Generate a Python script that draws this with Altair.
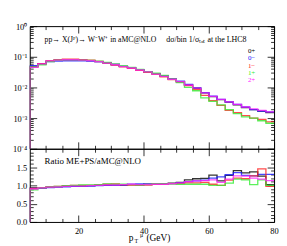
import altair as alt
import pandas as pd

# bin edges of the pT histogram (GeV)
x_lo = 5.0
x_hi = 80.0
bin_w = 2.5
edges = [x_lo + bin_w * i for i in range(31)]

series = ["0+", "0−", "1−", "1+", "2+"]
colors = ["#000000", "#1a1aff", "#ff2020", "#33ee33", "#ff20ff"]

# normalised distributions (aMC@NLO), one value per bin
dist = {
    "0+": [0.049, 0.059, 0.072, 0.078, 0.080, 0.080, 0.078, 0.075, 0.070, 0.063,
           0.056, 0.049, 0.044, 0.038, 0.032, 0.028, 0.0235, 0.019, 0.0155, 0.012,
           0.0094, 0.0066, 0.0050, 0.0040, 0.0033, 0.0027, 0.0022, 0.0019, 0.0017, 0.0015],
    "0−": [0.051, 0.060, 0.069, 0.072, 0.073, 0.073, 0.073, 0.072, 0.069, 0.063,
           0.056, 0.049, 0.044, 0.038, 0.033, 0.028, 0.024, 0.019, 0.016, 0.0125,
           0.0096, 0.0068, 0.0052, 0.0041, 0.0034, 0.0028, 0.0023, 0.0019, 0.0017, 0.0016],
    "1−": [0.046, 0.060, 0.074, 0.081, 0.083, 0.083, 0.081, 0.077, 0.071, 0.062,
           0.054, 0.047, 0.042, 0.036, 0.031, 0.027, 0.022, 0.018, 0.015, 0.0115,
           0.0085, 0.0055, 0.0037, 0.0026, 0.0018, 0.0015, 0.0012, 0.0010, 0.0009, 0.00075],
    "1+": [0.047, 0.055, 0.070, 0.077, 0.079, 0.079, 0.078, 0.076, 0.072, 0.065,
           0.058, 0.050, 0.045, 0.039, 0.033, 0.029, 0.0245, 0.019, 0.0145, 0.0100,
           0.0078, 0.0046, 0.0035, 0.0027, 0.0019, 0.0014, 0.0011, 0.0010, 0.00082, 0.00068],
    "2+": [0.045, 0.059, 0.073, 0.078, 0.080, 0.080, 0.078, 0.075, 0.069, 0.062,
           0.055, 0.048, 0.043, 0.037, 0.032, 0.027, 0.023, 0.0185, 0.0155, 0.012,
           0.0095, 0.0067, 0.0051, 0.0041, 0.0034, 0.0028, 0.0023, 0.0020, 0.0018, 0.0016],
}

# ratio ME+PS / aMC@NLO, one value per bin
ratio = {
    "0+": [0.93, 0.93, 0.95, 0.96, 0.97, 0.98, 0.98, 0.99, 1.00, 1.00,
           1.01, 1.01, 1.02, 1.02, 1.03, 1.04, 1.05, 1.06, 1.08, 1.15,
           1.18, 1.19, 1.28, 1.12, 1.27, 1.40, 1.34, 1.37, 1.25, 1.02],
    "0−": [0.92, 0.92, 0.94, 0.96, 0.96, 0.97, 0.98, 0.98, 0.99, 1.00,
           1.00, 1.01, 1.03, 1.04, 1.03, 1.04, 1.04, 1.05, 1.07, 1.10,
           1.12, 1.14, 1.20, 1.23, 1.29, 1.35, 1.27, 1.26, 1.30, 1.30],
    "1−": [0.92, 0.94, 0.96, 0.97, 0.99, 1.00, 1.00, 1.00, 1.02, 1.03,
           1.04, 1.02, 1.01, 1.00, 1.01, 1.03, 1.03, 1.05, 1.05, 1.07,
           1.07, 1.08, 1.03, 1.00, 1.14, 1.20, 1.18, 1.26, 1.45, 0.97],
    "1+": [0.88, 0.93, 0.96, 0.97, 0.99, 1.00, 1.01, 1.01, 1.02, 1.04,
           1.03, 1.03, 1.02, 1.01, 1.02, 1.05, 1.05, 1.04, 1.03, 1.03,
           1.03, 1.03, 1.00, 1.00, 1.06, 1.17, 1.15, 1.02, 1.15, 1.00],
    "2+": [0.90, 0.93, 0.95, 0.96, 0.97, 0.98, 0.98, 0.99, 1.00, 1.01,
           1.01, 1.02, 1.03, 1.02, 1.02, 1.03, 1.03, 1.05, 1.07, 1.10,
           1.12, 1.13, 1.15, 1.08, 1.17, 1.26, 1.25, 1.20, 1.17, 1.13],
}

x_major = [20, 40, 60, 80]
x_minor = [10, 15, 25, 30, 35, 45, 50, 55, 65, 70, 75]
log_major = [1.0, 0.1, 0.01, 0.001, 0.0001]
log_minor = [k * 10.0 ** e for e in range(-4, 0) for k in range(2, 10)]
r_major = [0.0, 0.5, 1.0, 1.5, 2.0]
r_minor = [round(0.1 * i, 1) for i in range(21) if i % 5 != 0]

W = 247
H_TOP = 124
H_BOT = 74
FONT = "Liberation Serif"
FS = 8.5
MAJ = 7
MIN = 3.5


def step_frame(values, floor):
    xs = [edges[0]] + edges
    ys = [floor] + list(values) + [values[-1]]
    return pd.DataFrame({"x": xs, "y": ys})


def panel(data_map, yscale, floor, H, x_labels, y_major, y_minor, y_label_expr, y_fmt):
    xs = alt.Scale(domain=[x_lo, x_hi], nice=False, zero=False)
    layers = []
    ref = pd.DataFrame({"x": edges, "y": list(data_map["0+"]) + [data_map["0+"][-1]]})
    # axis layer 1: labels + major ticks (drawn as short dashed grid segments)
    ax1 = alt.Chart(ref).mark_point(opacity=0, clip=True).encode(
        x=alt.X("x:Q", scale=xs, axis=alt.Axis(
            orient="bottom", values=x_major, labels=x_labels, ticks=False, domain=False,
            grid=True, gridColor="black", gridOpacity=1, gridWidth=0.8,
            gridDash=[MAJ, H - 2 * MAJ, MAJ], labelFont=FONT, labelFontSize=FS,
            labelColor="black", labelPadding=5, labelFlush=False, title=None)),
        y=alt.Y("y:Q", scale=yscale, axis=alt.Axis(
            orient="left", values=y_major, ticks=False, domain=False,
            grid=True, gridColor="black", gridOpacity=1, gridWidth=0.8,
            gridDash=[MAJ, W - 2 * MAJ, MAJ], labelFont=FONT, labelFontSize=FS,
            labelColor="black", labelPadding=3, labelFlush=False, labelOverlap=False,
            labelExpr=y_label_expr, format=y_fmt, title=None)),
    )
    # axis layer 2: minor ticks
    ax2 = alt.Chart(ref).mark_point(opacity=0, clip=True).encode(
        x=alt.X("x:Q", scale=xs, axis=alt.Axis(
            orient="top", values=x_minor, labels=False, ticks=False, domain=False,
            grid=True, gridColor="black", gridOpacity=1, gridWidth=0.8,
            gridDash=[MIN, H - 2 * MIN, MIN], title=None)),
        y=alt.Y("y:Q", scale=yscale, axis=alt.Axis(
            orient="right", values=y_minor, labels=False, ticks=False, domain=False,
            grid=True, gridColor="black", gridOpacity=1, gridWidth=0.8,
            gridDash=[MIN, W - 2 * MIN, MIN], title=None)),
    )
    layers += [ax1, ax2]
    for s, c in zip(series, colors):
        df = step_frame(data_map[s], floor)
        layers.append(
            alt.Chart(df).mark_line(interpolate="step-after", clip=True,
                                    strokeWidth=1.3, opacity=0.8, color=c).encode(
                x=alt.X("x:Q", scale=xs, axis=None),
                y=alt.Y("y:Q", scale=yscale, axis=None),
            )
        )
    return layers


log_expr = ("datum.value >= 0.5 ? '10⁰' : datum.value >= 0.05 ? '10⁻¹' : "
            "datum.value >= 0.005 ? '10⁻²' : datum.value >= 0.0005 ? '10⁻³' : '10⁻⁴'")
top_scale = alt.Scale(type="log", domain=[1e-4, 1], nice=False)
top_layers = panel(dist, top_scale, 1e-6, H_TOP, False, log_major, log_minor, log_expr, "")

one = pd.DataFrame({"a": [0]})


def txt(text, x, y, color="black", align="left", size=FS):
    return alt.Chart(one).mark_text(
        text=text, align=align, baseline="middle", font=FONT, fontSize=size,
        color=color).encode(x=alt.value(x), y=alt.value(y))


top_layers += [
    txt("pp→ X(Jᴾ)→ W⁻W⁺ in aMC@NLO", 15, 14, size=7.8),
    txt("dσ/bin 1/σₜₒₜ at the LHC8", 138, 14, align="left", size=8),
]
for i, (s, c) in enumerate(zip(series, colors)):
    top_layers.append(txt(s, 228, 25 + 7.5 * i, color=c, align="right", size=7))

top = alt.layer(*top_layers).resolve_axis(x="independent", y="independent").properties(
    width=W, height=H_TOP)

bot_scale = alt.Scale(domain=[0, 2], nice=False, zero=False)
bot_layers = panel(ratio, bot_scale, 0.0, H_BOT, True, [0.0, 0.5, 1.0, 1.5], r_minor,
                   "format(datum.value, '.1f')", ".1f")
bot_layers += [
    txt("Ratio ME+PS/aMC@NLO", 15, 12, size=9),
    txt("p", 100, H_BOT + 16.5, size=9.5),
    txt("T", 106, H_BOT + 19.5, size=6),
    txt("μ", 111.5, H_BOT + 13, size=6),
    txt("(GeV)", 118, H_BOT + 16.5, size=9.5),
]
bot = alt.layer(*bot_layers).resolve_axis(x="independent", y="independent").properties(
    width=W, height=H_BOT)

chart = alt.vconcat(top, bot, spacing=0, bounds="flush").properties(
    padding={"left": 4, "top": 12, "right": 0, "bottom": 0}
).configure_view(stroke="black", strokeWidth=1)

chart.save("out.html", embed_options={"renderer": "svg", "actions": False})
